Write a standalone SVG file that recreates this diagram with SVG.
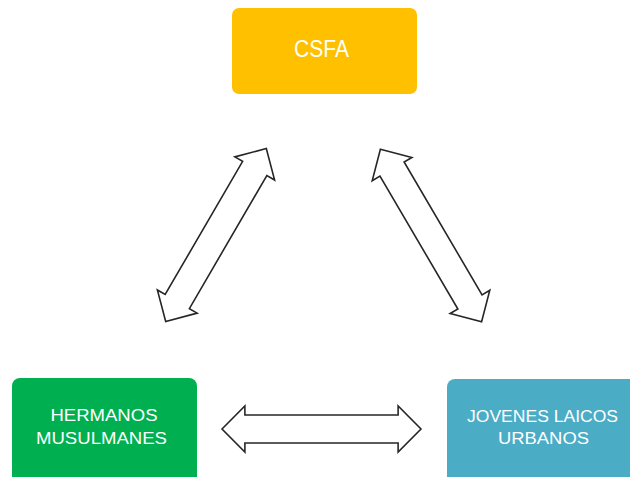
<svg xmlns="http://www.w3.org/2000/svg" width="630" height="477" viewBox="0 0 630 477">
<style>
.lbl{font-family:"Liberation Sans",Arial,sans-serif;fill:#ffffff;text-anchor:middle}
.arr{fill:#ffffff;stroke:#262626;stroke-width:1.6;stroke-linejoin:miter}
</style>
<defs>
<path id="dbl" d="M-100,0 L-77,-23 L-77,-14 L77,-14 L77,-23 L100,0 L77,23 L77,14 L-77,14 L-77,23 Z"/>
</defs>
<rect width="630" height="477" fill="#ffffff"/>
<g id="csfa">
<rect x="232" y="8" width="185" height="86" rx="7" fill="#FFC000"/>
<text class="lbl" x="321.5" y="57" font-size="23" textLength="55" lengthAdjust="spacingAndGlyphs">CSFA</text>
</g>
<g id="hermanos">
<rect x="12" y="378" width="185" height="110" rx="8" fill="#00B050"/>
<text class="lbl" x="104" y="421" font-size="16" textLength="107" lengthAdjust="spacingAndGlyphs">HERMANOS</text>
<text class="lbl" x="101.5" y="444" font-size="16" textLength="131" lengthAdjust="spacingAndGlyphs">MUSULMANES</text>
</g>
<g id="jovenes">
<rect x="447" y="379" width="195" height="110" rx="8" fill="#4BACC6"/>
<text class="lbl" x="542.5" y="421.5" font-size="16" textLength="151" lengthAdjust="spacingAndGlyphs">JOVENES LAICOS</text>
<text class="lbl" x="543.5" y="444" font-size="16" textLength="91" lengthAdjust="spacingAndGlyphs">URBANOS</text>
</g>
<g id="connectors">
<use href="#dbl" class="arr" transform="translate(216,235) rotate(-59.8)"/>
<use href="#dbl" class="arr" transform="translate(431,235.5) rotate(59.6)"/>
<use href="#dbl" class="arr" transform="translate(321.5,429) scale(0.995,1)"/>
</g>
</svg>
